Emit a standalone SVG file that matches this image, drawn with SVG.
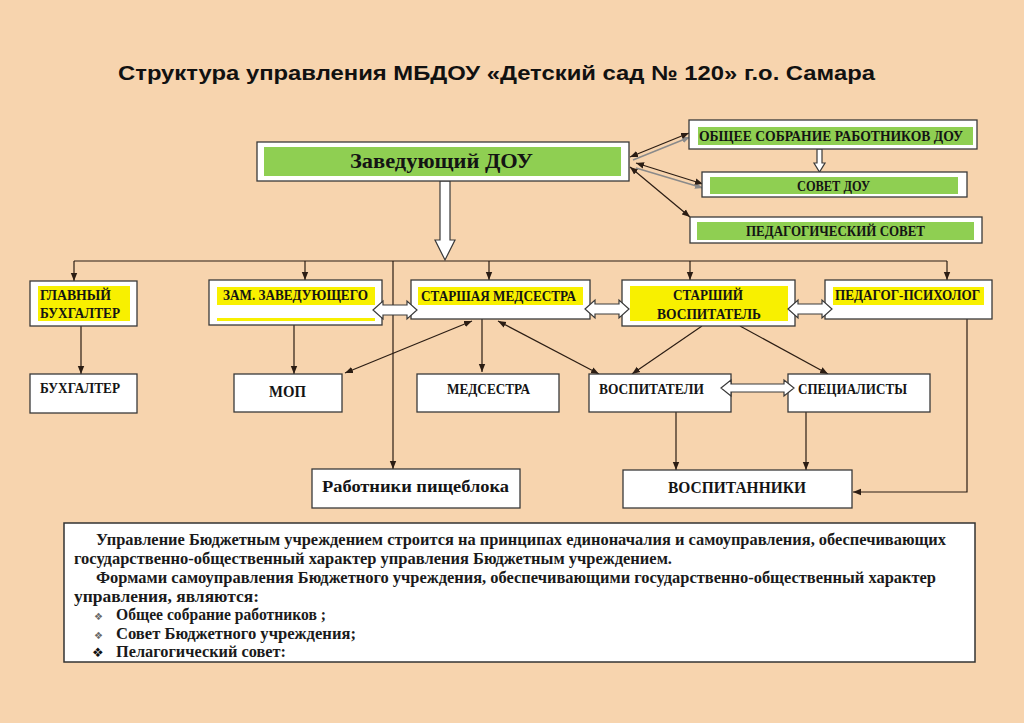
<svg xmlns="http://www.w3.org/2000/svg" width="1024" height="723" viewBox="0 0 1024 723">
<defs>
<style>
.box{fill:#fff;stroke:#3a3a3a;stroke-width:1.3}
.green{fill:#8fcf52}
.yel{fill:#f8f000}
.lbl{font-family:"Liberation Serif",serif;font-weight:bold;fill:#141414}
.con{stroke:#2b1d14;stroke-width:1.2;fill:none}
.hol{fill:#fff;stroke:#3a3a3a;stroke-width:1.2}
.note{font-family:"Liberation Serif",serif;font-weight:bold;font-size:16.5px;fill:#1a1a1a}
</style>
<marker id="ah" viewBox="0 0 10 10" refX="10" refY="5" markerWidth="8" markerHeight="8" markerUnits="userSpaceOnUse" orient="auto-start-reverse"><path d="M0,1 L10,5 L0,9 z" fill="#2b1d14"/></marker>
<marker id="ahg" viewBox="0 0 10 10" refX="10" refY="5" markerWidth="8" markerHeight="8" markerUnits="userSpaceOnUse" orient="auto-start-reverse"><path d="M0,1 L10,5 L0,9 z" fill="#8a8a8a"/></marker>
</defs>
<rect width="1024" height="723" fill="#f7d4ae"/>
<text x="118" y="80" font-family="Liberation Sans,sans-serif" font-weight="bold" font-size="20.5" textLength="757" lengthAdjust="spacingAndGlyphs" fill="#111">Структура управления МБДОУ «Детский сад № 120» г.о. Самара</text>

<g id="connectors">
<line class="con" x1="74" y1="261" x2="947" y2="261"/>
<line class="con" x1="74" y1="261" x2="74" y2="281" marker-end="url(#ah)"/>
<line class="con" x1="305" y1="261" x2="305" y2="280" marker-end="url(#ah)"/>
<line class="con" x1="489" y1="261" x2="489" y2="280" marker-end="url(#ah)"/>
<line class="con" x1="690" y1="261" x2="690" y2="280" marker-end="url(#ah)"/>
<line class="con" x1="947" y1="261" x2="947" y2="280" marker-end="url(#ah)"/>
<line class="con" x1="393" y1="261" x2="393" y2="469" marker-end="url(#ah)"/>
<line class="con" x1="81" y1="326" x2="81" y2="374" marker-end="url(#ah)"/>
<line class="con" x1="294" y1="325" x2="294" y2="374" marker-end="url(#ah)"/>
<line class="con" x1="482" y1="319" x2="482" y2="372" marker-end="url(#ah)"/>
<line class="con" x1="345" y1="373" x2="472" y2="321" marker-start="url(#ah)" marker-end="url(#ah)"/>
<line class="con" x1="498" y1="321" x2="599" y2="374" marker-start="url(#ah)" marker-end="url(#ah)"/>
<line class="con" x1="702" y1="326" x2="632" y2="374" marker-end="url(#ah)"/>
<line class="con" x1="740" y1="326" x2="828" y2="374" marker-end="url(#ah)"/>
<line class="con" x1="676" y1="412" x2="676" y2="470" marker-end="url(#ah)"/>
<line class="con" x1="806" y1="412" x2="806" y2="470" marker-end="url(#ah)"/>
<polyline class="con" points="967,319 967,492 853,492" marker-end="url(#ah)"/>
<line stroke="#8a8a8a" stroke-width="1.5" x1="633" y1="160" x2="690" y2="137" marker-end="url(#ahg)"/>
<line stroke="#8a8a8a" stroke-width="1.5" x1="636" y1="168" x2="703" y2="188" marker-end="url(#ahg)"/>
<line class="con" x1="630" y1="157" x2="689" y2="133" marker-start="url(#ah)" marker-end="url(#ah)"/>
<line class="con" x1="636" y1="163" x2="703" y2="184" marker-start="url(#ah)" marker-end="url(#ah)"/>
<line class="con" x1="630" y1="167" x2="690" y2="217" marker-start="url(#ah)" marker-end="url(#ah)"/>
<polygon class="hol" points="440,181 450,181 450,240 455,240 445,260 435,240 440,240"/>
<polygon class="hol" points="817,149 822,149 822,163 825,163 819.5,172 814,163 817,163"/>
</g>

<g id="n-zav">
<rect class="box" x="257" y="142" width="372" height="39"/>
<rect class="green" x="264" y="147" width="357" height="29"/>
<text class="lbl" x="350" y="168" font-size="21" textLength="183" lengthAdjust="spacingAndGlyphs" fill="#0f2a10">Заведующий ДОУ</text>
</g>
<g id="n-obsch">
<rect class="box" x="689" y="120" width="288" height="29"/>
<rect class="green" x="698" y="127" width="275" height="18"/>
<text class="lbl" x="699" y="141" font-size="15" textLength="264" lengthAdjust="spacingAndGlyphs">ОБЩЕЕ СОБРАНИЕ РАБОТНИКОВ ДОУ</text>
</g>
<g id="n-sovet">
<rect class="box" x="702" y="172" width="265" height="25"/>
<rect class="green" x="710" y="177" width="248" height="17"/>
<text class="lbl" x="797" y="191" font-size="15" textLength="73" lengthAdjust="spacingAndGlyphs">СОВЕТ ДОУ</text>
</g>
<g id="n-pedsovet">
<rect class="box" x="690" y="217" width="292" height="26"/>
<rect class="green" x="697" y="222" width="277" height="18"/>
<text class="lbl" x="746" y="236" font-size="15" textLength="179" lengthAdjust="spacingAndGlyphs">ПЕДАГОГИЧЕСКИЙ СОВЕТ</text>
</g>

<g id="n-glavbuh">
<rect class="box" x="30" y="281" width="107" height="45"/>
<rect class="yel" x="38" y="286" width="92" height="35"/>
<text class="lbl" x="40" y="300" font-size="15" textLength="71" lengthAdjust="spacingAndGlyphs">ГЛАВНЫЙ</text>
<text class="lbl" x="40" y="318" font-size="15" textLength="80" lengthAdjust="spacingAndGlyphs">БУХГАЛТЕР</text>
</g>
<g id="n-zam">
<rect class="box" x="209" y="280" width="173" height="45"/>
<rect class="yel" x="217" y="287" width="158" height="18"/>
<rect class="yel" x="217" y="318" width="158" height="3"/>
<text class="lbl" x="223" y="300" font-size="15" textLength="145" lengthAdjust="spacingAndGlyphs">ЗАМ. ЗАВЕДУЮЩЕГО</text>
</g>
<g id="n-stmed">
<rect class="box" x="411" y="280" width="179" height="39"/>
<rect class="yel" x="418" y="287" width="165" height="18"/>
<text class="lbl" x="421" y="301" font-size="15" textLength="155" lengthAdjust="spacingAndGlyphs">СТАРШАЯ МЕДСЕСТРА</text>
</g>
<g id="n-stvosp">
<rect class="box" x="622" y="280" width="173" height="46"/>
<rect class="yel" x="630" y="286" width="158" height="35"/>
<text class="lbl" x="673" y="300" font-size="15" textLength="70" lengthAdjust="spacingAndGlyphs">СТАРШИЙ</text>
<text class="lbl" x="657" y="319" font-size="15" textLength="104" lengthAdjust="spacingAndGlyphs">ВОСПИТАТЕЛЬ</text>
</g>
<g id="n-psych">
<rect class="box" x="825" y="280" width="167" height="39"/>
<rect class="yel" x="833" y="287" width="151" height="18"/>
<text class="lbl" x="835" y="300" font-size="15" textLength="145" lengthAdjust="spacingAndGlyphs">ПЕДАГОГ-ПСИХОЛОГ</text>
</g>

<g id="n-buh">
<rect class="box" x="30" y="374" width="107" height="39"/>
<text class="lbl" x="40" y="393" font-size="15" textLength="80" lengthAdjust="spacingAndGlyphs">БУХГАЛТЕР</text>
</g>
<g id="n-mop">
<rect class="box" x="234" y="374" width="108" height="38"/>
<text class="lbl" x="269" y="397" font-size="17" textLength="37" lengthAdjust="spacingAndGlyphs">МОП</text>
</g>
<g id="n-med">
<rect class="box" x="417" y="374" width="142" height="38"/>
<text class="lbl" x="447" y="394" font-size="15" textLength="83" lengthAdjust="spacingAndGlyphs">МЕДСЕСТРА</text>
</g>
<g id="n-vosp">
<rect class="box" x="589" y="374" width="142" height="38"/>
<text class="lbl" x="599" y="394" font-size="15" textLength="105" lengthAdjust="spacingAndGlyphs">ВОСПИТАТЕЛИ</text>
</g>
<g id="n-spec">
<rect class="box" x="788" y="374" width="142" height="38"/>
<text class="lbl" x="798" y="394" font-size="15" textLength="109" lengthAdjust="spacingAndGlyphs">СПЕЦИАЛИСТЫ</text>
</g>
<g id="n-pisch">
<rect class="box" x="312" y="469" width="208" height="39"/>
<text class="lbl" x="322" y="492" font-size="16.5" textLength="187" lengthAdjust="spacingAndGlyphs">Работники пищеблока</text>
</g>
<g id="n-vospitanniki">
<rect class="box" x="623" y="470" width="229" height="38"/>
<text class="lbl" x="668" y="493" font-size="17.5" textLength="138" lengthAdjust="spacingAndGlyphs">ВОСПИТАННИКИ</text>
</g>

<g id="double-arrows">
<polygon class="hol" points="373,310 383,301 383,305 407,305 407,301 417,310 407,319 407,315 383,315 383,319"/>
<polygon class="hol" points="585,309 595,300 595,304 619,304 619,300 629,309 619,318 619,314 595,314 595,318"/>
<polygon class="hol" points="788,309 798,300 798,304 822,304 822,300 832,309 822,318 822,314 798,314 798,318"/>
<polygon class="hol" points="721,388 731,380 731,384 784,384 784,380 794,388 784,396 784,392 731,392 731,396"/>
</g>

<g id="note">
<rect x="64" y="523" width="911" height="139" fill="#fff" stroke="#333" stroke-width="1.5"/>
<text class="note" x="96" y="545" textLength="850" lengthAdjust="spacingAndGlyphs">Управление  Бюджетным учреждением строится на принципах единоначалия и самоуправления, обеспечивающих</text>
<text class="note" x="74" y="564" textLength="598" lengthAdjust="spacingAndGlyphs">государственно-общественный характер управления Бюджетным учреждением.</text>
<text class="note" x="96" y="583" textLength="840" lengthAdjust="spacingAndGlyphs">Формами самоуправления Бюджетного учреждения, обеспечивающими государственно-общественный характер</text>
<text class="note" x="74" y="602" textLength="185" lengthAdjust="spacingAndGlyphs">управления, являются:</text>
<text x="94" y="620" font-family="DejaVu Sans,sans-serif" font-size="10" fill="#666">❖</text>
<text class="note" x="116" y="620" textLength="210" lengthAdjust="spacingAndGlyphs">Общее собрание работников ;</text>
<text x="94" y="639" font-family="DejaVu Sans,sans-serif" font-size="10" fill="#666">❖</text>
<text class="note" x="116" y="639" textLength="240" lengthAdjust="spacingAndGlyphs">Совет Бюджетного учреждения;</text>
<text x="92" y="657" font-family="DejaVu Sans,sans-serif" font-size="13" fill="#111">❖</text>
<text class="note" x="116" y="657" textLength="170" lengthAdjust="spacingAndGlyphs">Пелагогический совет:</text>
</g>
</svg>
